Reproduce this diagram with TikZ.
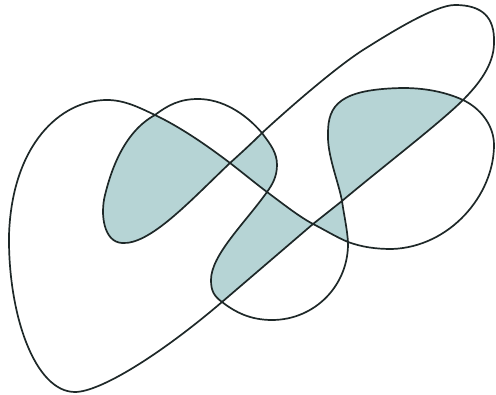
\documentclass[tikz,border=0pt]{standalone}
\definecolor{shade}{RGB}{182,212,213}
\definecolor{ink}{RGB}{30,40,40}
\begin{document}
\begin{tikzpicture}[x=1pt,y=1pt,
  knot/.style={draw=ink,line width=1.7pt,line join=round},
  region/.style={fill=shade,draw=none}]
\useasboundingbox (0,0) rectangle (496,395);
\coordinate (P1) at (155,280);
\coordinate (P2) at (230,232);
\coordinate (P3) at (267,203);
\coordinate (P4) at (262,262);
\coordinate (C4) at (313,171);
\coordinate (C5) at (348,153);
\coordinate (C6) at (342,194);
\coordinate (Q) at (222,93);
\coordinate (R) at (463,295);
% shaded regions
\path[region] (P2) .. controls (190,194) and (150,150) .. (122,152)
 .. controls (104,153) and (100,180) .. (105,200)
 .. controls (110,220) and (122,262) .. (P1)
 .. controls (180,268) and (205,251) .. (P2) -- cycle;
\path[region] (P4) .. controls (271,250) and (277,242) .. (277,230)
 .. controls (277,218) and (272,210) .. (P3)
 .. controls (255,212) and (243,222) .. (P2)
 .. controls (241,242) and (251,251) .. (P4) -- cycle;
\path[region] (P3) .. controls (245,172) and (211,140) .. (211,115)
 .. controls (211,104) and (214,99) .. (Q) -- (C4)
 .. controls (298,179) and (282,192) .. (P3) -- cycle;
\path[region] (C4) -- (C6) .. controls (344,180) and (347,167) .. (C5)
 .. controls (336,158) and (325,165) .. (C4) -- cycle;
\path[region] (C6) .. controls (338,215) and (327,240) .. (328,262)
 .. controls (328,290) and (340,306) .. (403,307)
 .. controls (430,307) and (450,301) .. (R)
 .. controls (440,272) and (380,226) .. (C6) -- cycle;
% the curve
\draw[knot] (Q) -- (C4) -- (C6) .. controls (380,226) and (440,272) .. (R)
 .. controls (478,310) and (494,330) .. (494,352)
 .. controls (495,378) and (482,390) .. (455,390)
 .. controls (435,390) and (390,362) .. (363,345)
 .. controls (335,327) and (288,286) .. (P4)
 .. controls (251,251) and (241,242) .. (P2)
 .. controls (190,194) and (150,150) .. (122,152)
 .. controls (104,153) and (100,180) .. (105,200)
 .. controls (110,220) and (122,262) .. (P1)
 .. controls (168,290) and (180,296) .. (198,296)
 .. controls (222,296) and (245,282) .. (P4)
 .. controls (271,250) and (277,242) .. (277,230)
 .. controls (277,218) and (272,210) .. (P3)
 .. controls (245,172) and (211,140) .. (211,115)
 .. controls (211,104) and (214,99) .. (Q)
 .. controls (235,83) and (250,75) .. (272,75)
 .. controls (315,75) and (349,110) .. (C5)
 .. controls (347,167) and (344,180) .. (C6)
 .. controls (338,215) and (327,240) .. (328,262)
 .. controls (328,290) and (340,306) .. (403,307)
 .. controls (430,307) and (450,301) .. (R)
 .. controls (480,287) and (494,270) .. (494,250)
 .. controls (494,200) and (450,148) .. (392,146)
 .. controls (375,146) and (362,148) .. (C5)
 .. controls (336,158) and (325,165) .. (C4)
 .. controls (298,179) and (282,192) .. (P3)
 .. controls (255,212) and (243,222) .. (P2)
 .. controls (205,251) and (180,268) .. (P1)
 .. controls (140,287) and (125,295) .. (107,295)
 .. controls (60,295) and (12,250) .. (9,160)
 .. controls (8,80) and (35,3) .. (75,3)
 .. controls (100,3) and (160,40) .. (Q) -- cycle;
\end{tikzpicture}
\end{document}
